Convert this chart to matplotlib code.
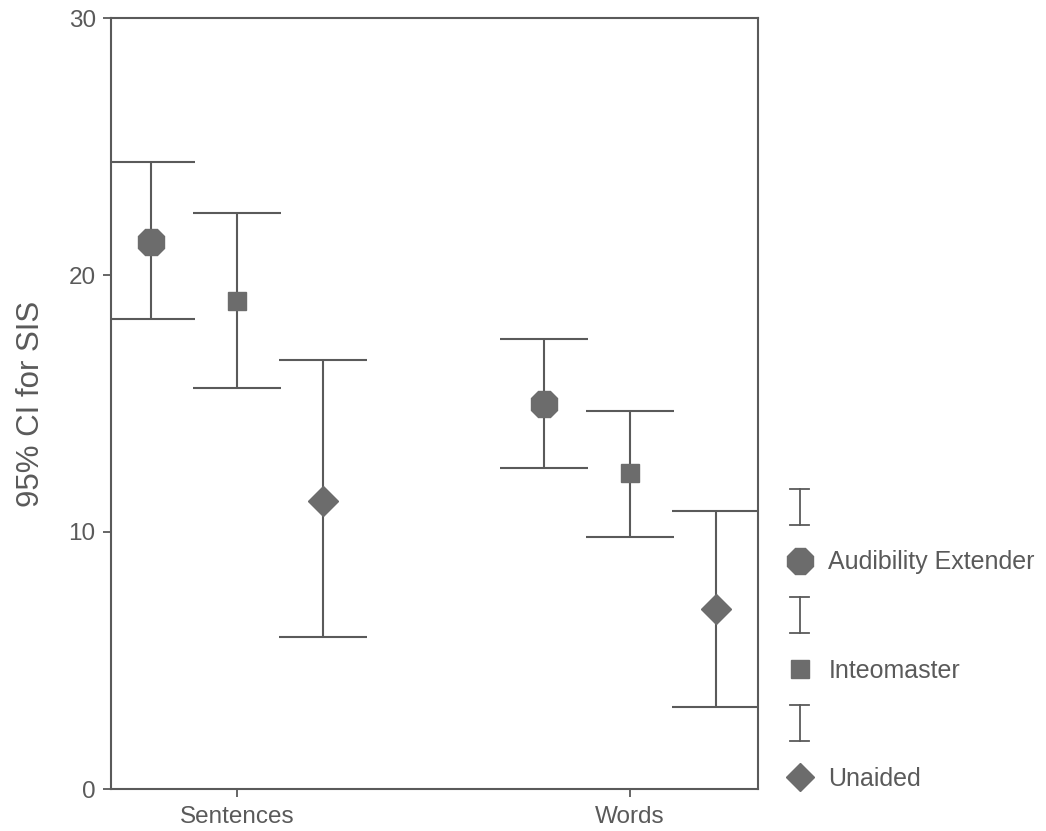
import matplotlib
matplotlib.use("Agg")
import matplotlib.pyplot as plt
from matplotlib.legend_handler import HandlerBase
from matplotlib.lines import Line2D
import numpy as np

plt.rcParams['font.family'] = ['Liberation Sans', 'DejaVu Sans']

categories = ["Sentences", "Words"]
series = ["Audibility Extender", "Inteomaster", "Unaided"]
means = {
    "Audibility Extender": [21.3, 15.0],
    "Inteomaster": [19.0, 12.3],
    "Unaided": [11.2, 7.0],
}
upper = {
    "Audibility Extender": [24.4, 17.5],
    "Inteomaster": [22.4, 14.7],
    "Unaided": [16.7, 10.8],
}
lower = {
    "Audibility Extender": [18.3, 12.5],
    "Inteomaster": [15.6, 9.8],
    "Unaided": [5.9, 3.2],
}
markers = {"Audibility Extender": "8", "Inteomaster": "s", "Unaided": "D"}
msizes = {"Audibility Extender": 21, "Inteomaster": 13, "Unaided": 15.5}
offsets = [-0.218, 0.0, 0.22]
yticks = [0, 10, 20, 30]

LINE = "#5a5a5a"
MARK = "#6c6c6c"
TEXT = "#5a5a5a"

fig = plt.figure(figsize=(10.46, 8.31), dpi=100)
ax = fig.add_axes([111/1046, 42/831, (758-111)/1046, (789-18)/831])

x = np.arange(1, len(categories) + 1)
for s, off in zip(series, offsets):
    m = np.array(means[s]); u = np.array(upper[s]); l = np.array(lower[s])
    ax.errorbar(x + off, m, yerr=[m - l, u - m], fmt='none', ecolor=LINE,
                elinewidth=1.5, capsize=31.7, capthick=1.5, zorder=2)
    ax.plot(x + off, m, linestyle='none', marker=markers[s], ms=msizes[s],
            color=MARK, mec=MARK, zorder=3)

ax.set_xlim(0.68, 2.326)
ax.set_ylim(0, 30)
ax.set_xticks(x)
ax.set_xticklabels(categories, fontsize=17.5, color=TEXT)
ax.set_yticks(yticks)
ax.set_yticklabels([str(t) for t in yticks], fontsize=17.5, color=TEXT)
ax.tick_params(axis='both', colors=LINE, labelcolor=TEXT, length=6, width=1.3)
ax.tick_params(axis='y', pad=5)
ax.tick_params(axis='x', pad=6)
for sp in ax.spines.values():
    sp.set_color(LINE)
    sp.set_linewidth(1.5)
ax.set_ylabel("95% CI for SIS", fontsize=22.5, color=TEXT, labelpad=16)


class HandlerIBeam(HandlerBase):
    def create_artists(self, legend, orig_handle, xdescent, ydescent, width,
                       height, fontsize, trans):
        cx = xdescent + width / 2
        h = 26
        y0 = ydescent + height / 2 - h / 2
        y1 = y0 + h
        w = 7
        arts = [Line2D([cx, cx], [y0, y1], color=LINE, lw=1.3, transform=trans),
                Line2D([cx - w, cx + w], [y0, y0], color=LINE, lw=1.3, transform=trans),
                Line2D([cx - w, cx + w], [y1, y1], color=LINE, lw=1.3, transform=trans)]
        return arts


class IBeam:
    pass


handles = []
labels = []
for s in series:
    handles.append(IBeam())
    labels.append("")
    handles.append(Line2D([], [], linestyle='none', marker=markers[s],
                          ms=msizes[s] * 0.95, color=MARK, mec=MARK))
    labels.append(s)

leg = fig.legend(handles, labels, loc='upper left',
                 bbox_to_anchor=(761/1046, 1 - 474/831),
                 frameon=False, fontsize=18, labelspacing=1.2,
                 handlelength=1.3, handletextpad=0.5,
                 handler_map={IBeam: HandlerIBeam()})
for t in leg.get_texts():
    t.set_color(TEXT)

fig.savefig("out.png", dpi=100, facecolor="white")
